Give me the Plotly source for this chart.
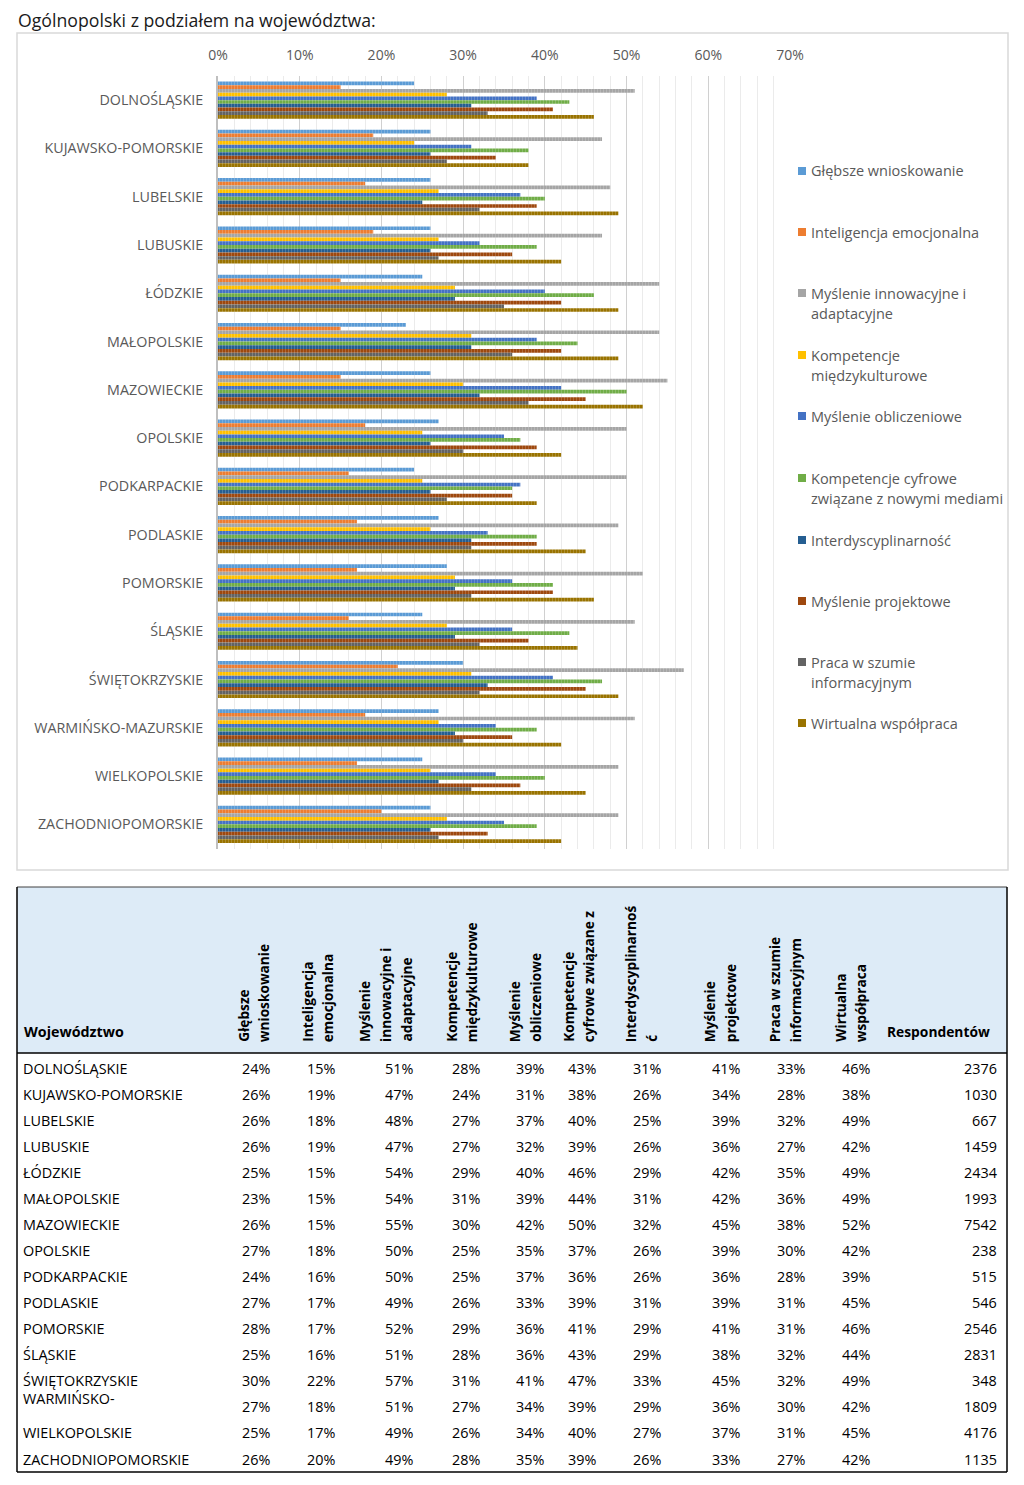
import plotly.graph_objects as go

W, H = 1024, 1485

regions = ["DOLNOŚLĄSKIE", "KUJAWSKO-POMORSKIE", "LUBELSKIE", "LUBUSKIE", "ŁÓDZKIE",
           "MAŁOPOLSKIE", "MAZOWIECKIE", "OPOLSKIE", "PODKARPACKIE", "PODLASKIE",
           "POMORSKIE", "ŚLĄSKIE", "ŚWIĘTOKRZYSKIE", "WARMIŃSKO-MAZURSKIE",
           "WIELKOPOLSKIE", "ZACHODNIOPOMORSKIE"]

series_names = ["Głębsze wnioskowanie", "Inteligencja emocjonalna",
                "Myślenie innowacyjne i adaptacyjne", "Kompetencje międzykulturowe",
                "Myślenie obliczeniowe", "Kompetencje cyfrowe związane z nowymi mediami",
                "Interdyscyplinarność", "Myślenie projektowe",
                "Praca w szumie informacyjnym", "Wirtualna współpraca"]

legend_lines = [["Głębsze wnioskowanie"], ["Inteligencja emocjonalna"],
                ["Myślenie innowacyjne i", "adaptacyjne"], ["Kompetencje", "międzykulturowe"],
                ["Myślenie obliczeniowe"], ["Kompetencje cyfrowe", "związane z nowymi mediami"],
                ["Interdyscyplinarność"], ["Myślenie projektowe"],
                ["Praca w szumie", "informacyjnym"], ["Wirtualna współpraca"]]

table_headers = [["Głębsze", "wnioskowanie"], ["Inteligencja", "emocjonalna"],
                 ["Myślenie", "innowacyjne i", "adaptacyjne"], ["Kompetencje", "międzykulturowe"],
                 ["Myślenie", "obliczeniowe"], ["Kompetencje", "cyfrowe związane z"],
                 ["Interdyscyplinarnoś", "ć"], ["Myślenie", "projektowe"],
                 ["Praca w szumie", "informacyjnym"], ["Wirtualna", "współpraca"]]

glebsze = [24, 26, 26, 26, 25, 23, 26, 27, 24, 27, 28, 25, 30, 27, 25, 26]
inteligencja = [15, 19, 18, 19, 15, 15, 15, 18, 16, 17, 17, 16, 22, 18, 17, 20]
innowacyjne = [51, 47, 48, 47, 54, 54, 55, 50, 50, 49, 52, 51, 57, 51, 49, 49]
miedzykulturowe = [28, 24, 27, 27, 29, 31, 30, 25, 25, 26, 29, 28, 31, 27, 26, 28]
obliczeniowe = [39, 31, 37, 32, 40, 39, 42, 35, 37, 33, 36, 36, 41, 34, 34, 35]
cyfrowe = [43, 38, 40, 39, 46, 44, 50, 37, 36, 39, 41, 43, 47, 39, 40, 39]
interdyscyplinarnosc = [31, 26, 25, 26, 29, 31, 32, 26, 26, 31, 29, 29, 33, 29, 27, 26]
projektowe = [41, 34, 39, 36, 42, 42, 45, 39, 36, 39, 41, 38, 45, 36, 37, 33]
szum = [33, 28, 32, 27, 35, 36, 38, 30, 28, 31, 31, 32, 32, 30, 31, 27]
wirtualna = [46, 38, 49, 42, 49, 49, 52, 42, 39, 45, 46, 44, 49, 42, 45, 42]
respondentow = [2376, 1030, 667, 1459, 2434, 1993, 7542, 238, 515, 546, 2546, 2831,
                348, 1809, 4176, 1135]

series_values = [glebsze, inteligencja, innowacyjne, miedzykulturowe, obliczeniowe,
                 cyfrowe, interdyscyplinarnosc, projektowe, szum, wirtualna]

colors = ["#5B9BD5", "#ED7D31", "#A5A5A5", "#FFC000", "#4472C4",
          "#70AD47", "#255E91", "#9E480E", "#636363", "#997300"]


def px(x):
    return x / W


def py(y):
    return 1 - y / H


CHART_FONT = "Open Sans"
GRAY = "#595959"
FS_AX = 14.3
FS_LEG = 14.5
FS_TAB = 14.4

fig = go.Figure()
for name, vals, col in zip(series_names, series_values, colors):
    fig.add_trace(go.Bar(
        x=[v / 100 for v in vals], y=regions, orientation="h", name=name,
        marker=dict(color=col, line=dict(width=0),
                    pattern=dict(shape="|", fgcolor="white", fgopacity=0.25, size=3, solidity=0.25)),
        showlegend=False,
    ))

plot_top, plot_bot = 76, 848.5
fig.update_layout(
    width=W, height=H, margin=dict(l=0, r=0, t=0, b=0, pad=0, autoexpand=False),
    autosize=False, showlegend=False,
    paper_bgcolor="white", plot_bgcolor="white",
    barmode="group", bargap=0.23, bargroupgap=0,
    font=dict(family=CHART_FONT, size=FS_AX, color=GRAY),
    xaxis=dict(domain=[px(218), px(790)], range=[0, 0.70005], side="top",
               tickformat=".0%", dtick=0.1, tick0=0, showgrid=True, gridcolor="#D0D0D0",
               gridwidth=1, zeroline=False, showline=False, ticks="", automargin=False,
               ticklabelstandoff=12, tickfont=dict(size=14, color=GRAY),
               minor=dict(dtick=0.02, showgrid=True, gridcolor="#EBEBEB", gridwidth=1),
               anchor="y"),
    yaxis=dict(domain=[py(plot_bot), py(plot_top)], autorange="reversed", automargin=False,
               showline=True, linecolor="#BFBFBF", linewidth=2, ticks="",
               ticklabelstandoff=10, tickfont=dict(size=FS_AX, color=GRAY),
               showgrid=False, anchor="x"),
)

shapes = []
annotations = []

# Title
annotations.append(dict(x=px(16), y=py(20), xref="paper", yref="paper", xanchor="left",
                        yanchor="middle", showarrow=False,
                        text="Ogólnopolski z podziałem na województwa:",
                        font=dict(family=CHART_FONT, size=17.7, color="#1a1a1a")))

# Chart frame
shapes.append(dict(type="rect", xref="paper", yref="paper", x0=px(17), x1=px(1008),
                   y0=py(870), y1=py(33), line=dict(color="#D9D9D9", width=1.5),
                   fillcolor="rgba(0,0,0,0)", layer="below"))

# Manual legend
legend_y = [171, 232, 293, 355, 416, 478, 540, 601, 662, 723]
for lines, col, y0 in zip(legend_lines, colors, legend_y):
    shapes.append(dict(type="rect", xref="paper", yref="paper", x0=px(798), x1=px(806),
                       y0=py(y0 + 4), y1=py(y0 - 4), fillcolor=col, line=dict(width=0)))
    for i, ln in enumerate(lines):
        annotations.append(dict(x=px(809), y=py(y0 + i * 20.5), xref="paper", yref="paper",
                                xanchor="left", yanchor="middle", showarrow=False, text=ln,
                                font=dict(family=CHART_FONT, size=FS_LEG, color=GRAY)))

# Table
TFONT = "Open Sans"
t_top, t_head, t_bot, t_left, t_right = 887, 1053, 1472, 17, 1007
shapes.append(dict(type="rect", xref="paper", yref="paper", x0=px(t_left), x1=px(t_right),
                   y0=py(t_head), y1=py(t_top), fillcolor="#DDEBF7", line=dict(width=0),
                   layer="below"))
shapes.append(dict(type="line", xref="paper", yref="paper", x0=px(t_left), x1=px(t_right),
                   y0=py(t_top), y1=py(t_top), line=dict(color="#404040", width=1)))
shapes.append(dict(type="line", xref="paper", yref="paper", x0=px(t_left), x1=px(t_right),
                   y0=py(t_head), y1=py(t_head), line=dict(color="#000000", width=1.5)))
shapes.append(dict(type="line", xref="paper", yref="paper", x0=px(t_left), x1=px(t_right),
                   y0=py(t_bot), y1=py(t_bot), line=dict(color="#000000", width=1.5)))
for xx in (t_left, t_right):
    shapes.append(dict(type="line", xref="paper", yref="paper", x0=px(xx), x1=px(xx),
                       y0=py(t_top), y1=py(t_bot), line=dict(color="#000000", width=1.5)))

col_right = [272, 337, 415, 482, 546, 598, 663, 742, 807, 872]
head_center = [253, 317, 385, 461, 525, 578, 641, 720, 785, 850]
resp_right = 999

# header labels
annotations.append(dict(x=px(22), y=py(1043), xref="paper", yref="paper", xanchor="left",
                        yanchor="bottom", showarrow=False, text="<b>Województwo</b>",
                        font=dict(family=TFONT, size=14.3, color="#000")))
annotations.append(dict(x=px(885), y=py(1043), xref="paper", yref="paper", xanchor="left",
                        yanchor="bottom", showarrow=False, text="<b>Respondentów</b>",
                        font=dict(family=TFONT, size=13.8, color="#000")))
for lines, xc in zip(table_headers, head_center):
    n = len(lines)
    for i, ln in enumerate(lines):
        xi = xc + (i - (n - 1) / 2) * 20.5
        annotations.append(dict(x=px(xi), y=py(1044), xref="paper", yref="paper",
                                xanchor="center", yanchor="bottom", textangle=-90,
                                showarrow=False, text="<b>" + ln + "</b>",
                                font=dict(family=TFONT, size=13.7, color="#000")))

row0, row_step = 1068, 26.07
for r, reg in enumerate(regions):
    yy = row0 + r * row_step
    label = reg
    ylab = yy
    if reg == "WARMIŃSKO-MAZURSKIE":
        label = "WARMIŃSKO-"
        ylab = yy - 8
    annotations.append(dict(x=px(21), y=py(ylab), xref="paper", yref="paper",
                            xanchor="left", yanchor="middle", showarrow=False, text=label,
                            font=dict(family=TFONT, size=FS_TAB, color="#000")))
    for vals, xr in zip(series_values, col_right):
        annotations.append(dict(x=px(xr), y=py(yy), xref="paper", yref="paper",
                                xanchor="right", yanchor="middle", showarrow=False,
                                text=f"{vals[r]}%",
                                font=dict(family=TFONT, size=FS_TAB, color="#000")))
    annotations.append(dict(x=px(resp_right), y=py(yy), xref="paper", yref="paper",
                            xanchor="right", yanchor="middle", showarrow=False,
                            text=str(respondentow[r]),
                            font=dict(family=TFONT, size=FS_TAB, color="#000")))

fig.update_layout(shapes=shapes, annotations=annotations)
fig.write_html("out.html")
